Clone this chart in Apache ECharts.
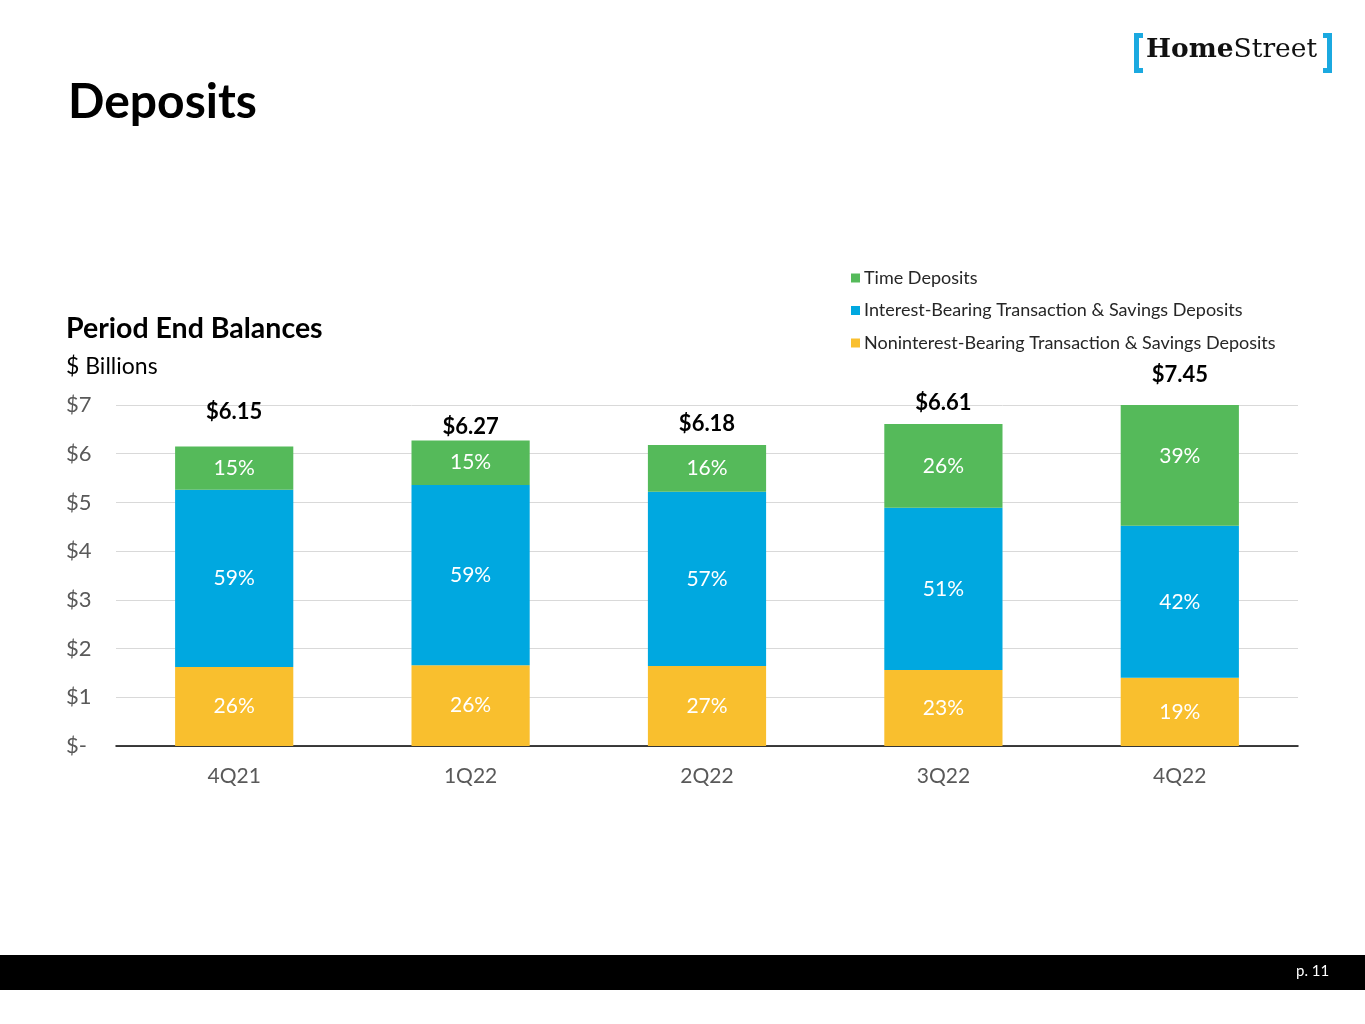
<!DOCTYPE html>
<html><head><meta charset="utf-8">
<script src="https://cdn.jsdelivr.net/npm/echarts@6/dist/echarts.min.js"></script>
<style>html,body{margin:0;padding:0;background:#fff}#c{width:1365px;height:1024px}</style>
</head><body><div id="c"></div>
<script>
var categories = ['4Q21','1Q22','2Q22','3Q22','4Q22'];
var nonInterest = [1.62, 1.66, 1.64, 1.56, 1.40];
var interestBearing = [3.64, 3.70, 3.58, 3.33, 3.12];
var timeDeposits = [0.89, 0.91, 0.96, 1.72, 2.93];
var totals = [6.15, 6.27, 6.18, 6.61, 7.45];
var nonInterestPct = ['26%','26%','27%','23%','19%'];
var interestPct = ['59%','59%','57%','51%','42%'];
var timePct = ['15%','15%','16%','26%','39%'];
var yTicks = ['$-','$1','$2','$3','$4','$5','$6','$7'];

// label nudges (style only, in px)
var totalLabelDy = [-23, -2, -10, -10, 3];
var timeLabelDy = [0, 0, 0, 0, -9];

var FONT = 'Lato';
var chart = echarts.init(document.getElementById('c'));
function pctLabel(arr){
  return {show:true, position:'inside', color:'#fff', fontFamily:FONT, fontSize:21,
    formatter:function(p){return arr[p.dataIndex];}};
}
chart.setOption({
  animation:false,
  grid:{left:116, right:67, top:405, bottom:278},
  legend:{
    orient:'vertical', left:846, top:264, itemGap:14.5, itemWidth:9, itemHeight:9, itemStyle:{borderWidth:0},
    icon:'rect', textStyle:{fontFamily:FONT, fontSize:18, color:'#262626', padding:[0,0,0,-1]},
    data:['Time Deposits','Interest-Bearing Transaction & Savings Deposits','Noninterest-Bearing Transaction & Savings Deposits']
  },
  xAxis:{type:'category', data:categories,
    axisLine:{lineStyle:{color:'#000', width:1.5}}, axisTick:{show:false},
    axisLabel:{color:'#595959', fontFamily:FONT, fontSize:21, margin:20}},
  yAxis:{type:'value', min:0, max:7, interval:1,
    axisLine:{show:false}, axisTick:{show:false},
    splitLine:{lineStyle:{color:'#d9d9d9', width:1}},
    axisLabel:{color:'#595959', fontFamily:FONT, fontSize:22, margin:50, align:'left',
      formatter:function(v){return yTicks[Math.round(v)];}}},
  series:[
    {name:'Noninterest-Bearing Transaction & Savings Deposits', type:'bar', stack:'a', barWidth:'50%',
      data:nonInterest, itemStyle:{color:'#F9BF2E'}, label:pctLabel(nonInterestPct)},
    {name:'Interest-Bearing Transaction & Savings Deposits', type:'bar', stack:'a',
      data:interestBearing, itemStyle:{color:'#00A8E0'}, label:pctLabel(interestPct)},
    {name:'Time Deposits', type:'bar', stack:'a',
      data:timeDeposits.map(function(v,i){return {value:v, label:{offset:[0,timeLabelDy[i]]}};}),
      itemStyle:{color:'#55BA5A'}, label:pctLabel(timePct)},
    {name:'Total', type:'line', symbol:'circle', symbolSize:1, clip:false,
      data:totals.map(function(v,i){return {value:v, label:{offset:[0,totalLabelDy[i]]}};}),
      itemStyle:{color:'rgba(0,0,0,0)'}, lineStyle:{opacity:0}, silent:true,
      label:{show:true, position:'top', distance:0, color:'#000', fontFamily:FONT, fontWeight:'bold', fontSize:22,
        formatter:function(p){return '$'+p.value.toFixed(2);}}}
  ],
  graphic:[
    {type:'text', left:68, top:79, style:{text:'Deposits', fontFamily:FONT, fontWeight:'bold', fontSize:48, fill:'#000'}},
    {type:'text', left:66, top:314, style:{text:'Period End Balances', fontFamily:FONT, fontWeight:'bold', fontSize:28.5, fill:'#000'}},
    {type:'text', left:66, top:355, style:{text:'$ Billions', fontFamily:FONT, fontSize:23, fill:'#000'}},
    {type:'rect', left:0, top:955, shape:{width:1365, height:35}, style:{fill:'#000'}},
    {type:'text', left:1296, top:964, style:{text:'p. 11', fontFamily:FONT, fontSize:15, fill:'#fff'}},
    {type:'rect', left:1134, top:33, shape:{width:5, height:40}, style:{fill:'#1BA9E0'}},
    {type:'rect', left:1134, top:68, shape:{width:9, height:5}, style:{fill:'#1BA9E0'}},
    {type:'rect', left:1134, top:33, shape:{width:9, height:5}, style:{fill:'#1BA9E0'}},
    {type:'rect', left:1327, top:33, shape:{width:5, height:40}, style:{fill:'#1BA9E0'}},
    {type:'rect', left:1323, top:33, shape:{width:9, height:5}, style:{fill:'#1BA9E0'}},
    {type:'rect', left:1323, top:68, shape:{width:9, height:5}, style:{fill:'#1BA9E0'}},
    {type:'text', left:1146, top:37, style:{rich:{h:{fontFamily:'DejaVu Serif', fontWeight:'bold', fontSize:26.5, fill:'#111'}, s:{fontFamily:'DejaVu Serif', fontSize:26.5, fill:'#111'}}, text:'{h|Home}{s|Street}'}}
  ]
});
</script></body></html>
